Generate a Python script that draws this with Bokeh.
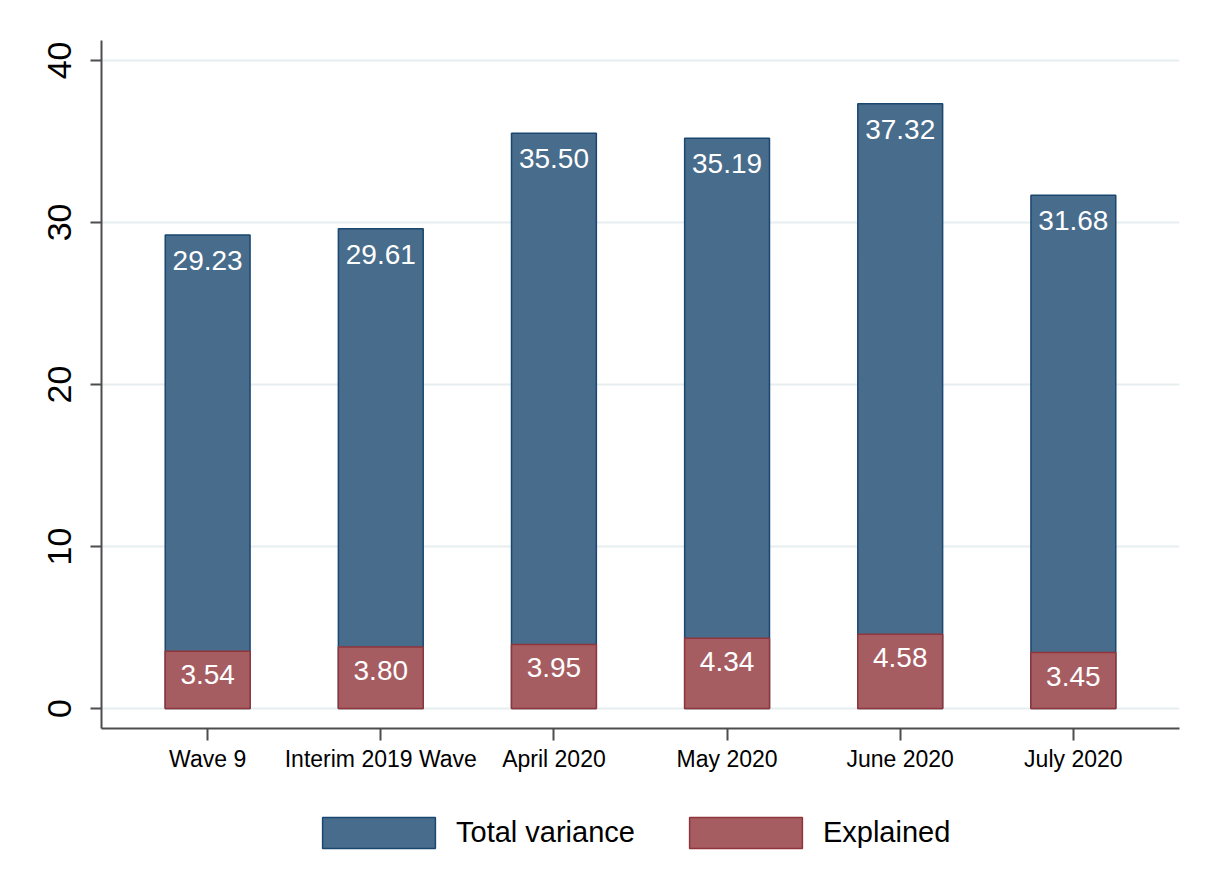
from bokeh.plotting import figure
from bokeh.layouts import column
from bokeh.models import (ColumnDataSource, FactorRange, Range1d, Legend, LegendItem,
                          FixedTicker, LabelSet, BoxAnnotation)
from bokeh.core.properties import value
from bokeh.embed import file_html
from bokeh.resources import INLINE

categories = ["Wave 9", "Interim 2019 Wave", "April 2020", "May 2020", "June 2020", "July 2020"]
total_variance = [29.23, 29.61, 35.50, 35.19, 37.32, 31.68]
explained = [3.54, 3.80, 3.95, 4.34, 4.58, 3.45]
y_ticks = [0, 10, 20, 30, 40]
series_names = ["Total variance", "Explained"]

BLUE_FILL = "#486C8C"
BLUE_LINE = "#1A476F"
RED_FILL = "#A65D62"
RED_LINE = "#90353B"
FONT = "Liberation Sans"
W = 1189

src = ColumnDataSource(dict(
    cat=categories,
    total=total_variance,
    expl=explained,
    total_lbl=[f"{v:.2f}" for v in total_variance],
    expl_lbl=[f"{v:.2f}" for v in explained],
))

p = figure(width=W, height=790,
           x_range=FactorRange(*categories, range_padding=0.0377),
           y_range=Range1d(-1.235, 41.23),
           output_backend="svg", toolbar_location=None,
           min_border_left=101, min_border_top=40, min_border_right=10, min_border_bottom=62)
p.outline_line_color = None
p.background_fill_color = "white"
p.border_fill_color = "white"

p.xgrid.grid_line_color = None
p.ygrid.grid_line_color = "#E6EEF0"
p.ygrid.grid_line_width = 2
p.yaxis.ticker = FixedTicker(ticks=y_ticks)

r1 = p.vbar(x="cat", top="total", bottom=0, width=0.49, source=src,
            fill_color=BLUE_FILL, line_color=BLUE_LINE, line_width=1.5)
r2 = p.vbar(x="cat", top="expl", bottom=0, width=0.49, source=src,
            fill_color=RED_FILL, line_color=RED_LINE, line_width=1.5)

p.add_layout(LabelSet(x="cat", y="total", text="total_lbl", source=src,
                      text_align="center", text_baseline="top", y_offset=-16,
                      text_color="white", text_font=value(FONT), text_font_size="28px"))
p.add_layout(LabelSet(x="cat", y="expl", text="expl_lbl", source=src,
                      text_align="center", text_baseline="top", y_offset=-14,
                      text_color="white", text_font=value(FONT), text_font_size="28px"))

for ax in (p.xaxis[0], p.yaxis[0]):
    ax.axis_line_color = "#4d4d4d"
    ax.axis_line_width = 2
    ax.major_tick_line_color = "#4d4d4d"
    ax.major_tick_line_width = 2
    ax.minor_tick_line_color = None
    ax.major_tick_in = 0
    ax.major_label_text_color = "black"
    ax.major_label_text_font = FONT

p.yaxis.major_tick_out = 11
p.yaxis.major_label_orientation = "vertical"
p.yaxis.major_label_text_font_size = "34px"
p.yaxis.major_label_standoff = 19

p.xaxis.major_tick_out = 12
p.xaxis.major_label_text_font_size = "23px"
p.xaxis.major_label_standoff = 5

# legend strip below the chart: its bars fall outside its visible range and are
# covered by a white box, so only the legend shows
lf = figure(width=W, height=72, x_range=FactorRange(*categories), y_range=Range1d(1000, 1010),
            output_backend="svg", toolbar_location=None,
            min_border_left=101, min_border_right=10, min_border_top=13, min_border_bottom=0)
lf.axis.visible = False
lf.grid.visible = False
lf.outline_line_color = None
lf.background_fill_color = "white"
lf.border_fill_color = "white"
l1 = lf.vbar(x="cat", top="total", bottom=0, width=0.49, source=src,
             fill_color=BLUE_FILL, line_color=BLUE_LINE, line_width=1.5)
l2 = lf.vbar(x="cat", top="expl", bottom=0, width=0.49, source=src,
             fill_color=RED_FILL, line_color=RED_LINE, line_width=1.5)
lf.add_layout(BoxAnnotation(fill_color="white", fill_alpha=1.0, line_color=None))
legend = Legend(items=[LegendItem(label=series_names[0], renderers=[l1]),
                       LegendItem(label=series_names[1], renderers=[l2])],
                orientation="horizontal", location=(207, 10),
                glyph_width=141, glyph_height=39, label_standoff=7, spacing=40,
                label_text_font=FONT, label_text_font_size="29px", label_text_color="black",
                border_line_color=None, background_fill_alpha=0, padding=0, margin=0)
lf.add_layout(legend, "center")

layout = column(p, lf, spacing=0)
open("out.html", "w").write(file_html(layout, INLINE))
